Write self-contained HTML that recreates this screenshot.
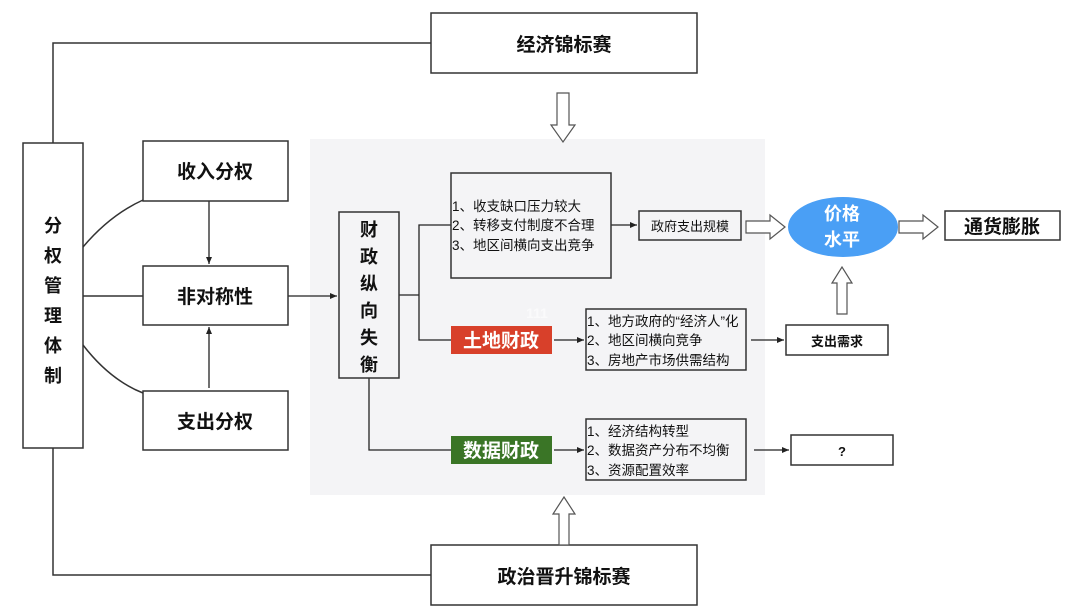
<!DOCTYPE html>
<html><head><meta charset="utf-8"><style>
html,body{margin:0;padding:0;background:#fff;}
svg{display:block;}
text{font-family:"Liberation Sans","Noto Sans CJK SC",sans-serif;fill:#111;}
</style></head><body>
<svg width="1080" height="614" viewBox="0 0 1080 614" xmlns="http://www.w3.org/2000/svg">
<defs><marker id="a" markerWidth="8" markerHeight="8" refX="7" refY="4" orient="auto" markerUnits="userSpaceOnUse"><path d="M0,1 L7,4 L0,7 Z" fill="#222"/></marker></defs>
<rect x="0" y="0" width="1080" height="614" fill="#fff"/>
<rect x="310" y="139" width="455" height="356" fill="#f4f4f6"/>
<g stroke="#333" stroke-width="1.5" fill="none">
<path d="M53,143 V43 H431"/>
<path d="M53,448 V575 H431"/>
<path d="M83,247 Q110,215 143,200"/>
<path d="M83,345 Q110,380 143,393"/>
<path d="M83,296 H143"/>
</g>
<g stroke="#222" stroke-width="1.3" fill="none">
<path d="M209,201 V264" marker-end="url(#a)"/>
<path d="M209,388 V327" marker-end="url(#a)"/>
<path d="M288,296 H337" marker-end="url(#a)"/>
<path d="M399,295 H419 V340 H451 M419,295 V225 H451"/>
<path d="M369,378 V450 H451"/>
<path d="M611,225 H637" marker-end="url(#a)"/>
<path d="M554,340 H584" marker-end="url(#a)"/>
<path d="M554,450 H584" marker-end="url(#a)"/>
<path d="M751,340 H784" marker-end="url(#a)"/>
<path d="M754,450 H789" marker-end="url(#a)"/>
</g>
<g stroke="#333" stroke-width="1.5" fill="#fff">
<rect x="431" y="13" width="266" height="60"/>
<rect x="431" y="545" width="266" height="60"/>
<rect x="23" y="143" width="60" height="305"/>
<rect x="143" y="141" width="145" height="60"/>
<rect x="143" y="266" width="145" height="59"/>
<rect x="143" y="391" width="145" height="59"/>
<rect x="945" y="211" width="115" height="29"/>
<rect x="786" y="325" width="102" height="30"/>
<rect x="791" y="435" width="102" height="30"/>
</g>
<g stroke="#333" stroke-width="1.5" fill="#f4f4f6">
<rect x="339" y="212" width="60" height="166"/>
<rect x="451" y="173" width="160" height="105"/>
<rect x="639" y="211" width="102" height="29"/>
<rect x="586" y="309" width="160" height="61"/>
<rect x="586" y="419" width="160" height="61"/>
</g>
<rect x="451" y="326" width="101" height="28" fill="#d8402a"/>
<rect x="451" y="436" width="101" height="28" fill="#3a7526"/>
<ellipse cx="843" cy="227" rx="55" ry="30" fill="#4a9ff5"/>
<g stroke="#555" stroke-width="1.2" fill="#fff">
<path d="M557,93 H569 V125 H575 L563,142 L551,125 H557 Z"/>
<path d="M559,545 V514 H553 L564,497 L575,514 H569 V545 Z"/>
<path d="M746,221 H770 V215 L785,227 L770,239 V233 H746 Z"/>
<path d="M899,221 H923 V215 L938,227 L923,239 V233 H899 Z"/>
<path d="M837,314 V283 H832 L842,267 L852,283 H847 V314 Z"/>
</g>
<g font-weight="bold" text-anchor="middle">
<text x="564" y="51" font-size="19">经济锦标赛</text>
<text x="564" y="583" font-size="19">政治晋升锦标赛</text>
<text x="215" y="178" font-size="19">收入分权</text>
<text x="215" y="303" font-size="19">非对称性</text>
<text x="215" y="428" font-size="19">支出分权</text>
<text x="1002" y="233" font-size="19">通货膨胀</text>
<text x="837" y="346" font-size="13">支出需求</text>
<text x="842" y="456" font-size="13">?</text>
<text x="690" y="231" font-size="13" font-weight="normal">政府支出规模</text>
<text x="501" y="347" font-size="19" style="fill:#fff">土地财政</text>
<text x="501" y="457" font-size="19" style="fill:#fff">数据财政</text>
<text x="842" y="220" font-size="18" style="fill:#fff">价格</text>
<text x="842" y="246" font-size="18" style="fill:#fff">水平</text>
<text x="537" y="318" font-size="14" style="fill:#fff;opacity:0.6">111</text>
</g>
<g font-weight="bold" text-anchor="middle" font-size="18">
<text x="53" y="232">分</text><text x="53" y="262">权</text><text x="53" y="292">管</text>
<text x="53" y="322">理</text><text x="53" y="352">体</text><text x="53" y="382">制</text>
</g>
<g font-weight="bold" text-anchor="middle" font-size="18">
<text x="369" y="236">财</text><text x="369" y="263">政</text><text x="369" y="290">纵</text>
<text x="369" y="317">向</text><text x="369" y="344">失</text><text x="369" y="371">衡</text>
</g>
<g font-size="13.5">
<text x="452" y="211">1、收支缺口压力较大</text>
<text x="452" y="230">2、转移支付制度不合理</text>
<text x="452" y="250">3、地区间横向支出竞争</text>
<text x="587" y="326">1、地方政府的“经济人”化</text>
<text x="587" y="345">2、地区间横向竞争</text>
<text x="587" y="365">3、房地产市场供需结构</text>
<text x="587" y="436">1、经济结构转型</text>
<text x="587" y="455">2、数据资产分布不均衡</text>
<text x="587" y="475">3、资源配置效率</text>
</g>
</svg>
</body></html>
